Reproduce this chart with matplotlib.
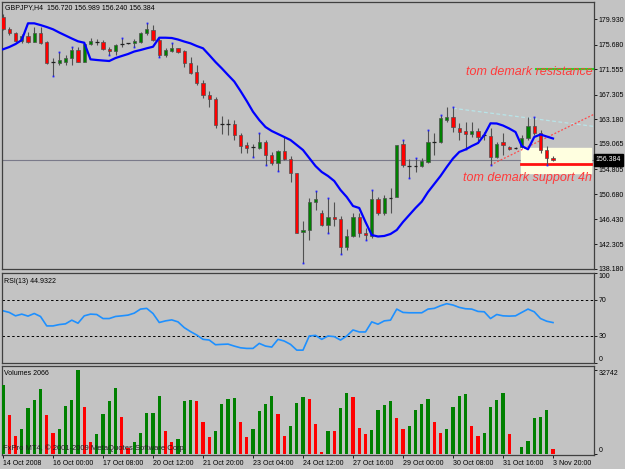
import numpy as np
import matplotlib
matplotlib.use('Agg')
import matplotlib.pyplot as plt
from matplotlib.transforms import blended_transform_factory

plt.rcParams['font.family'] = ['Liberation Sans', 'DejaVu Sans']

# ---- data (GBPJPY H4) ----
opens = [180.36, 178.26, 177.59, 176.35, 177.18, 176.18, 177.59, 176.18, 172.73, 172.66,
         172.83, 173.40, 174.79, 172.83, 175.74, 176.18, 176.18, 174.96, 174.67, 175.74,
         175.91, 175.91, 176.18, 177.59, 178.14, 176.46, 173.95, 174.62, 175.07, 174.67,
         172.66, 171.16, 169.32, 167.26, 166.59, 162.40, 162.40, 162.40, 160.56, 158.89,
         158.50, 158.34, 159.44, 157.21, 155.93, 157.88, 156.49, 154.15, 144.28, 144.66,
         149.40, 147.56, 145.50, 146.89, 146.50, 141.86, 143.66, 146.89, 144.21, 143.66,
         149.80, 147.45, 150.07, 150.24, 159.00, 155.37, 155.37, 155.42, 156.09, 159.44,
         159.44, 163.07, 163.52, 161.68, 161.28, 160.73, 161.28, 160.56, 160.40, 156.93,
         159.44, 158.50, 158.38, 158.50, 160.01, 162.07, 160.85, 158.05, 156.72]
highs = [180.82, 178.64, 177.85, 177.42, 177.85, 178.69, 178.69, 176.35, 173.40, 174.51,
         173.95, 175.34, 175.34, 175.91, 176.75, 176.58, 176.46, 175.34, 175.74, 176.75,
         176.01, 176.58, 177.85, 179.36, 178.97, 176.75, 175.07, 175.91, 175.18, 174.79,
         173.57, 172.28, 169.77, 167.98, 166.97, 163.74, 163.19, 163.07, 160.90, 159.44,
         159.06, 160.85, 159.72, 157.72, 158.05, 160.28, 157.05, 154.28, 146.22, 149.97,
         151.24, 148.01, 149.97, 149.40, 147.00, 144.83, 147.45, 147.45, 144.94, 151.36,
         150.24, 150.52, 151.64, 158.89, 159.72, 156.49, 156.66, 156.66, 161.40, 160.85,
         163.91, 165.25, 165.20, 162.52, 162.79, 162.79, 161.68, 161.11, 161.74, 159.39,
         160.85, 158.72, 158.55, 160.56, 163.63, 163.52, 161.40, 158.72, 156.989]
lows = [178.14, 177.30, 176.18, 175.91, 175.91, 176.08, 175.74, 172.45, 170.44, 172.28,
        172.28, 172.28, 172.73, 172.73, 175.63, 175.63, 174.79, 173.95, 173.95, 175.34,
        175.79, 175.34, 175.91, 177.30, 176.35, 173.67, 173.67, 174.40, 174.34, 172.00,
        170.77, 168.93, 166.70, 165.30, 161.68, 160.73, 160.56, 159.72, 157.60, 157.50,
        156.93, 158.22, 155.54, 155.54, 154.59, 156.38, 152.74, 144.16, 139.09, 142.98,
        148.01, 145.33, 144.21, 145.33, 140.64, 141.31, 143.49, 143.54, 142.98, 143.27,
        147.17, 147.17, 147.45, 150.13, 155.26, 153.31, 154.42, 155.26, 155.82, 157.21,
        159.17, 162.74, 161.11, 159.72, 158.17, 160.28, 159.17, 159.72, 155.54, 156.76,
        157.21, 158.05, 158.22, 158.38, 159.72, 160.56, 157.50, 155.54, 156.24]
closes = [178.26, 177.59, 176.35, 177.18, 176.18, 177.59, 176.01, 172.56, 172.73, 173.12,
          173.40, 174.79, 172.83, 175.74, 176.30, 176.18, 174.96, 174.62, 175.63, 175.74,
          175.91, 176.35, 177.69, 178.26, 176.46, 173.95, 174.79, 175.07, 174.40, 172.56,
          170.99, 169.22, 167.26, 166.59, 162.24, 162.40, 162.40, 160.56, 158.72, 158.34,
          158.50, 159.44, 157.21, 155.93, 157.88, 156.49, 154.15, 144.21, 144.66, 149.40,
          149.85, 145.50, 146.89, 146.55, 141.86, 143.66, 146.89, 144.11, 143.82, 149.80,
          147.45, 150.07, 150.07, 158.89, 155.54, 155.37, 155.37, 156.21, 159.34, 159.44,
          163.41, 163.63, 161.85, 161.11, 160.73, 161.28, 160.17, 160.56, 156.93, 159.06,
          158.89, 158.17, 158.38, 160.01, 162.07, 160.85, 158.05, 156.66, 156.384]
ma_line = [174.91, 175.29, 175.79, 176.46, 179.26, 179.26, 178.97, 178.64, 178.26, 177.72,
           177.22, 176.72, 176.25, 176.01, 173.23, 173.12, 173.03, 172.95, 173.45, 173.79,
           174.12, 174.54, 174.79, 175.08, 175.34, 176.85, 176.85, 176.80, 176.55, 176.21,
           175.91, 175.46, 175.08, 173.95, 172.78, 171.73, 170.61, 169.52, 167.93, 166.25,
           164.46, 163.07, 161.90, 161.23, 160.73, 160.23, 159.72, 158.89, 158.05, 156.71,
           155.37, 154.37, 153.70, 152.86, 151.36, 150.18, 148.68, 148.34, 146.00, 143.82,
           143.57, 143.66, 143.99, 144.66, 146.00, 147.17, 148.34, 149.40, 151.02, 152.36,
           153.70, 155.21, 156.63, 157.72, 158.14, 158.72, 159.22, 160.56, 162.52, 162.49,
           162.15, 161.65, 161.06, 158.72, 158.17, 160.23, 160.65, 160.31, 159.98]
rsi = [58.0, 56.2, 52.4, 54.3, 52.1, 55.0, 51.7, 41.2, 41.2, 42.7,
       43.5, 47.6, 44.2, 52.4, 54.3, 53.9, 49.4, 49.4, 51.7, 52.4,
       53.2, 55.4, 59.9, 60.7, 55.0, 45.0, 46.8, 47.9, 45.7, 39.3,
       34.9, 31.1, 26.3, 25.5, 20.3, 20.7, 21.0, 18.8, 16.9, 16.2,
       16.2, 21.8, 18.8, 17.7, 26.3, 24.4, 20.7, 14.3, 14.3, 30.0,
       30.7, 26.3, 30.0, 29.3, 25.5, 30.0, 36.7, 34.5, 34.5, 45.7,
       43.1, 46.8, 47.6, 59.9, 56.2, 55.8, 55.8, 55.8, 59.9, 60.7,
       63.6, 65.9, 64.4, 61.8, 60.3, 59.9, 57.3, 56.9, 49.4, 53.9,
       52.4, 52.1, 52.4, 56.2, 59.9, 56.9, 49.4, 46.4, 44.9322]
volumes = [27200, 15210, 7090, 10050, 18170, 21270, 25260, 15210, 8250, 9800,
           18820, 21270, 32742, 18560, 4900, 7860, 15850, 20750, 25780, 14570,
           2320, 4900, 8250, 16110, 16240, 22820, 9150, 4640, 6060, 20620,
           21010, 20950, 12500, 6700, 9150, 19460, 21400, 21780, 12500, 6700,
           9800, 16760, 19720, 22820, 15600, 7090, 10960, 19980, 22170, 21400,
           11860, 1030, 9150, 8890, 17920, 23720, 22170, 10180, 7990, 9410,
           17140, 19080, 20620, 14050, 9930, 10960, 17400, 19460, 21660, 12500,
           8380, 9800, 18300, 22560, 23330, 10960, 7220, 8250, 18560, 21140,
           23720, 7990, 130, 2840, 5160, 14180, 14690, 17140, 2066]
frac_up = [9, 11, 19, 23, 27, 41, 50, 52, 59, 64, 66, 68, 70, 72, 85]
frac_dn = [8, 17, 21, 25, 40, 42, 44, 48, 52, 54, 58, 65, 74, 78, 87]

price_ticks = [179.930, 175.680, 171.555, 167.305, 163.180, 159.065,
               154.805, 150.680, 146.430, 142.305, 138.180]
date_labels = ['14 Oct 2008', '16 Oct 00:00', '17 Oct 08:00', '20 Oct 12:00',
               '21 Oct 20:00', '23 Oct 04:00', '24 Oct 12:00', '27 Oct 16:00',
               '29 Oct 00:00', '30 Oct 08:00', '31 Oct 16:00', '3 Nov 20:00']
last_price = 156.384
resistance = 171.62
support = 155.66

BG = '#c3c3c3'
W, H = 625, 469
fig = plt.figure(figsize=(W / 100, H / 100), dpi=100, facecolor=BG)


def panel(top, bottom):
    a = fig.add_axes([2 / W, 1 - bottom / H, 592 / W, (bottom - top) / H])
    a.set_facecolor(BG)
    for s in a.spines.values():
        s.set_color('#404040')
        s.set_linewidth(0.9)
    a.set_xlim(-0.16, 94.56)
    a.yaxis.tick_right()
    a.tick_params(axis='y', length=2, width=0.6, pad=1.5, labelsize=5, colors='black')
    a.tick_params(axis='x', length=0)
    a.set_xticks([])
    return a


x = np.arange(len(closes))
o, h, l, c = map(np.array, (opens, highs, lows, closes))

# ---- price panel ----
ax = panel(2, 269)
ax.set_ylim(138.13, 182.83)
ax.set_yticks(price_ticks)
ax.set_yticklabels([f'{p:.3f}' for p in price_ticks])

ax.axhline(last_price, color='#7a7a8a', lw=0.8, zorder=1)

# yellow support box + lines
ax.axhspan(154.25, 158.45, xmin=(82.9 + 0.16) / 94.72, xmax=(94.1 + 0.16) / 94.72,
           color='#ffffe0', zorder=1)
ax.plot([82.9, 94.1], [support, support], color='#ff1010', lw=2, zorder=2)
ax.plot([85.2, 94.56], [resistance, resistance], color='#22dd22', lw=1.5, zorder=2)

# trend lines
ax.plot([72, 94.56], [165.04, 162.0], color='#b8e4e8', lw=0.9, ls=(0, (3, 2)), zorder=2)
ax.plot([78, 94.56], [155.54, 164.03], color='#ff4a4a', lw=0.9, ls=(0, (1.5, 1.5)), zorder=2)

# candles
ax.vlines(x, l, h, color='#505050', lw=0.8, zorder=3)
up = c > o
dn = c < o
ax.bar(x[up], (c - o)[up], bottom=o[up], width=0.55, color='#008000',
       edgecolor='#505050', linewidth=0.5, zorder=4)
ax.bar(x[dn], (o - c)[dn], bottom=c[dn], width=0.55, color='#ff0000',
       edgecolor='#505050', linewidth=0.5, zorder=4)
doji = c == o
ax.hlines(o[doji], x[doji] - 0.3, x[doji] + 0.3, color='#202020', lw=0.9, zorder=4)

ax.plot(x[frac_up], h[frac_up], 's', ms=1.3, color='#2020ff', mec='none', zorder=5)
ax.plot(x[frac_dn], l[frac_dn], 's', ms=1.3, color='#2020ff', mec='none', zorder=5)

ax.plot(x, ma_line, color='#0000ff', lw=1.6, zorder=5)

ax.text(94.4, 171.15, 'tom demark resistance', color='#ff3b3b', fontsize=9,
        style='italic', ha='right', va='center', zorder=6)
ax.text(94.2, 153.36, 'tom demark support 4h', color='#ff3b3b', fontsize=9,
        style='italic', ha='right', va='center', zorder=6)

tr = blended_transform_factory(ax.transAxes, ax.transData)
ax.text(1.003, last_price, f'{last_price:.3f}', transform=tr, color='white', fontsize=5,
        ha='left', va='center', clip_on=False,
        bbox=dict(boxstyle='square,pad=0.3', fc='black', ec='black'))

fig.text(5 / W, 1 - 7.8 / H, 'GBPJPY,H4  156.720 156.989 156.240 156.384',
         fontsize=5, color='black', va='center', ha='left')

# ---- RSI panel ----
ar = panel(273, 363)
ar.set_ylim(0, 100)
ar.set_yticks([0, 30, 70, 100])
ar.set_yticklabels(['0', '30', '70', '100'])
ticks = ar.yaxis.get_major_ticks()
ticks[0].label2.set_va('bottom')
ticks[3].label2.set_va('top')
ar.axhline(70, color='black', lw=0.7, ls=(0, (2.5, 2.5)))
ar.axhline(30, color='black', lw=0.7, ls=(0, (2.5, 2.5)))
ar.plot(x, rsi, color='#1e90ff', lw=1.2)
fig.text(4 / W, 1 - 281.5 / H, f'RSI(13) {rsi[-1]:.4f}', fontsize=5,
         color='black', va='center', ha='left')

# ---- volume panel ----
av = panel(366, 455)
av.set_ylim(-270, 34418)
vcol = ['#008000' if i == 0 or volumes[i] > volumes[i - 1] else '#ff0000'
        for i in range(len(volumes))]
av.bar(x, volumes, width=0.5, color=vcol, zorder=3)
av.set_yticks([0, 32742])
av.set_yticklabels(['0', '32742'])
vt = av.yaxis.get_major_ticks()
vt[0].label2.set_va('bottom')
vt[1].label2.set_va('top')
av.set_xticks(np.arange(0, len(x), 8))
av.set_xticklabels(date_labels)
av.tick_params(axis='x', length=2, width=0.6, pad=1.5, labelsize=5, colors='black')
for t in av.get_xticklabels():
    t.set_ha('left')
fig.text(4 / W, 1 - 373.7 / H, f'Volumes {volumes[-1]}', fontsize=5,
         color='black', va='center', ha='left')
fig.text(3 / W, 1 - 448.5 / H, 'FxPro MT4, \u00a9 2001-2009 MetaQuotes Software Corp.',
         fontsize=5.5, color='#202020', va='center', ha='left', zorder=10)

fig.savefig('out.png', dpi=100, facecolor=BG)
